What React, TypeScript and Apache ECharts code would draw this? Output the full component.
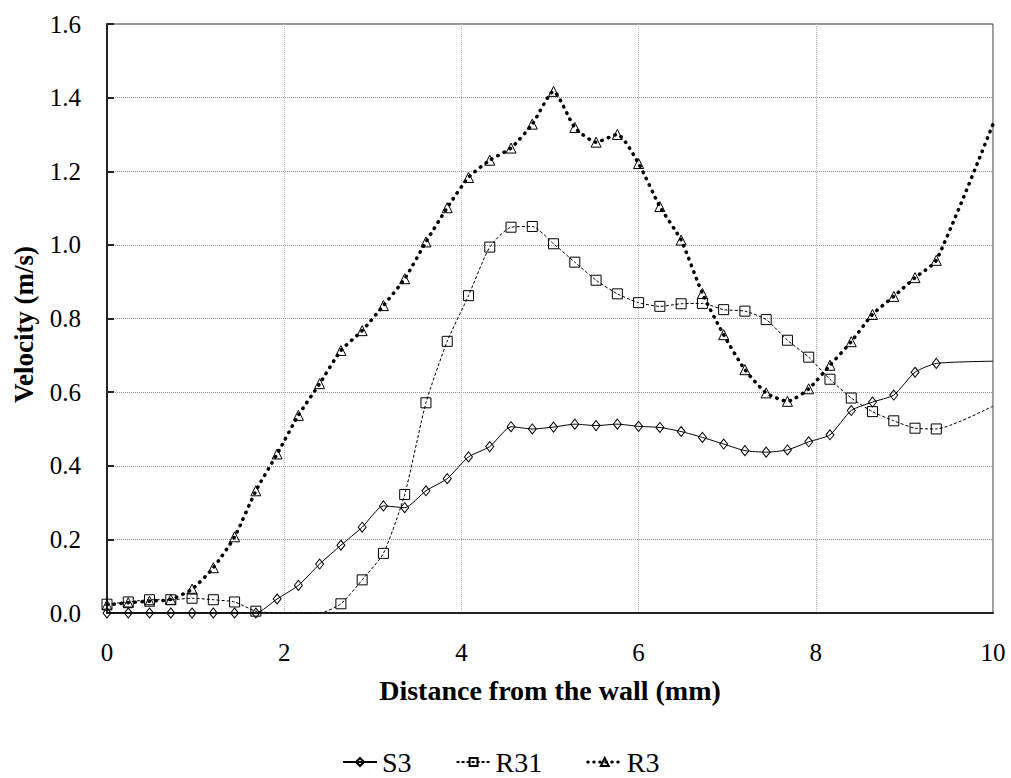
import React, { useEffect, useRef } from "react";
import * as echarts from "echarts";

const xs = [0, 0.24, 0.48, 0.72, 0.96, 1.2, 1.44, 1.68, 1.92, 2.16, 2.4, 2.64, 2.88, 3.12, 3.36, 3.6, 3.84, 4.08, 4.32, 4.56, 4.8, 5.04, 5.28, 5.52, 5.76, 6.0, 6.24, 6.48, 6.72, 6.96, 7.2, 7.44, 7.68, 7.92, 8.16, 8.4, 8.64, 8.88, 9.12, 9.36, 10];

const s3 = [0, 0, 0, 0, 0, 0, 0, 0, 0.038, 0.075, 0.133, 0.184, 0.233, 0.291, 0.286, 0.332, 0.365, 0.424, 0.452, 0.506, 0.5, 0.505, 0.513, 0.509, 0.513, 0.507, 0.504, 0.493, 0.477, 0.459, 0.441, 0.437, 0.443, 0.465, 0.484, 0.55, 0.573, 0.592, 0.654, 0.678, 0.684];

const r31 = [0.024, 0.03, 0.036, 0.036, 0.04, 0.036, 0.03, 0.005, 0, 0, 0, 0.025, 0.09, 0.162, 0.322, 0.571, 0.738, 0.862, 0.994, 1.048, 1.05, 1.003, 0.953, 0.904, 0.867, 0.843, 0.833, 0.84, 0.841, 0.824, 0.82, 0.797, 0.741, 0.695, 0.635, 0.584, 0.547, 0.522, 0.502, 0.5, 0.562];
const r31Hidden = [8, 9, 10, 40];

const r3 = [0.022, 0.028, 0.032, 0.037, 0.065, 0.123, 0.207, 0.332, 0.432, 0.537, 0.623, 0.713, 0.767, 0.835, 0.908, 1.008, 1.101, 1.183, 1.23, 1.263, 1.328, 1.417, 1.319, 1.279, 1.3, 1.221, 1.104, 1.013, 0.868, 0.756, 0.661, 0.598, 0.575, 0.609, 0.673, 0.737, 0.811, 0.86, 0.911, 0.958, 1.328];

const yTicks = ["0.0", "0.2", "0.4", "0.6", "0.8", "1.0", "1.2", "1.4", "1.6"];

const FONT = "'Liberation Serif', 'Times New Roman', serif";

function build(vals: number[], hidden: number[]) {
  return vals.map((v, i) =>
    hidden.indexOf(i) >= 0 ? { value: [xs[i], v], symbol: "none" } : { value: [xs[i], v] }
  );
}

export default function App() {
  const ref = useRef<HTMLDivElement>(null);
  useEffect(() => {
    if (!ref.current) return;
    const chart = echarts.init(ref.current, null, { renderer: "svg" });
    const marker = {
      color: "rgba(255,255,255,0)",
      borderColor: "#000",
      borderWidth: 1,
    };
    const dotted = { color: "#000", width: 3.5, type: [0.5, 6.5], cap: "round" };
    chart.setOption({
      animation: false,
      backgroundColor: "#fff",
      grid: {
        left: 107,
        right: 18,
        top: 24,
        bottom: 165,
        show: true,
        borderColor: "#333",
        borderWidth: 1,
        backgroundColor: "transparent",
      },
      legend: {
        top: 743,
        left: 337,
        itemWidth: 34,
        itemHeight: 10,
        itemGap: 44,
        textStyle: { fontFamily: FONT, fontSize: 28, color: "#000" },
        data: [
          { name: "S3" },
          { name: "R31" },
          { name: "R3", lineStyle: { color: "#000", width: 3, type: [0.5, 5.5], cap: "round" } },
        ],
      },
      xAxis: {
        type: "value",
        min: 0,
        max: 10,
        interval: 2,
        name: "Distance from the wall (mm)",
        nameLocation: "middle",
        nameGap: 63,
        nameTextStyle: { fontFamily: FONT, fontSize: 28, fontWeight: "bold", color: "#000" },
        axisLine: { show: true, lineStyle: { color: "#222", width: 2 } },
        axisTick: { show: false },
        axisLabel: { fontFamily: FONT, fontSize: 25, color: "#000", margin: 27 },
        splitLine: { show: true, lineStyle: { color: "#bbb", type: [1, 1], width: 1 } },
      },
      yAxis: {
        type: "value",
        min: 0,
        max: 1.6,
        interval: 0.2,
        name: "Velocity (m/s)",
        nameLocation: "middle",
        nameGap: 70,
        nameTextStyle: {
          fontFamily: FONT,
          fontSize: 27,
          fontWeight: "bold",
          color: "#000",
          padding: [0, 12, 0, 0],
        },
        axisLine: { show: true, lineStyle: { color: "#222", width: 2 } },
        axisTick: { show: true, inside: true, length: 7, lineStyle: { color: "#222", width: 2 } },
        axisLabel: {
          fontFamily: FONT,
          fontSize: 25,
          color: "#000",
          margin: 26,
          formatter: (v: number) => yTicks[Math.round(v / 0.2)] ?? "",
        },
        splitLine: { show: true, lineStyle: { color: "#999", type: [1, 1], width: 1 } },
      },
      series: [
        {
          name: "S3",
          type: "line",
          smooth: 0.2,
          symbol: "diamond",
          symbolSize: [8, 10],
          lineStyle: { color: "#000", width: 1 },
          itemStyle: marker,
          data: build(s3, [40]),
          z: 3,
        },
        {
          name: "R31",
          type: "line",
          smooth: 0.2,
          symbol: "rect",
          symbolSize: 10,
          lineStyle: { color: "#000", width: 1, type: [3, 2] },
          itemStyle: marker,
          data: build(r31, r31Hidden),
          z: 4,
        },
        {
          name: "R3",
          type: "line",
          smooth: 0.2,
          symbol: "triangle",
          symbolSize: [10, 10],
          lineStyle: dotted,
          itemStyle: marker,
          data: build(r3, [40]),
          z: 5,
        },
      ],
    });
    return () => chart.dispose();
  }, []);
  return (
    <div
      ref={ref}
      style={{ position: "absolute", left: 0, top: 0, width: 1011, height: 778, overflow: "hidden" }}
    />
  );
}
